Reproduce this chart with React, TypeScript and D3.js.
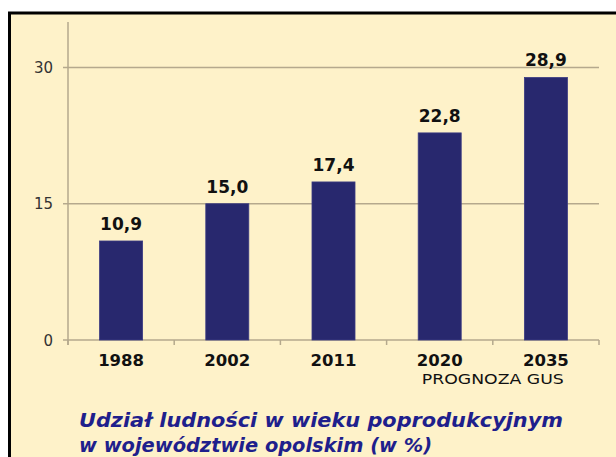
import React from 'react';
import { scaleBand, scaleLinear } from 'd3';

const years = ['1988', '2002', '2011', '2020', '2035'];
const shares = [10.9, 15.0, 17.4, 22.8, 28.9];
const yTicks = [0, 15, 30];
const forecastNote = 'PROGNOZA GUS';
const titleLines = ['Udział ludności w wieku poprodukcyjnym', 'w województwie opolskim (w %)'];

const W = 616;
const H = 457;
const plot = { left: 68, right: 599, top: 22, bottom: 340 };
// measured widths of the two title lines in the reference
const titleWidths = [484, 353];

export default function App() {
  const x = scaleBand()
    .domain(years)
    .range([plot.left, plot.right])
    .paddingInner(0.595)
    .paddingOuter(0.2975);

  const y = scaleLinear().domain([0, 30]).range([plot.bottom, 67.5]);

  const fmt = (v: number) => v.toFixed(1).replace('.', ',');
  const step = x.step();
  const edges = years.map((d) => (x(d) as number) - (step - x.bandwidth()) / 2);
  edges.push(plot.right);

  const axisColor = '#b5a98d';
  const font = '"DejaVu Sans", Verdana, sans-serif';

  return (
    <svg width={W} height={H} style={{ position: 'absolute', left: 0, top: 0, background: '#fff' }}>
      <rect x={9} y={12} width={W - 9} height={H - 12} fill="#fef2c9" />
      <line x1={8} x2={W} y1={13} y2={13} stroke="#000" strokeWidth={3} />
      <line x1={9.5} x2={9.5} y1={12} y2={H} stroke="#000" strokeWidth={3} />

      {/* gridlines + y ticks */}
      {yTicks.map((t) => (
        <g key={t}>
          <line x1={63} x2={plot.right} y1={y(t)} y2={y(t)} stroke={axisColor} strokeWidth={1.5} />
          <text x={53} y={y(t) + 5.5} textAnchor="end" fontFamily={font} fontSize={15} fill="#333">
            {t}
          </text>
        </g>
      ))}
      <line x1={plot.left} x2={plot.left} y1={plot.top} y2={plot.bottom + 5} stroke={axisColor} strokeWidth={1.5} />
      {edges.map((e, i) => (
        <line key={i} x1={e} x2={e} y1={plot.bottom} y2={plot.bottom + 5} stroke={axisColor} strokeWidth={1.5} />
      ))}

      {/* bars */}
      {years.map((d, i) => (
        <g key={d}>
          <rect
            x={x(d)}
            y={y(shares[i])}
            width={x.bandwidth()}
            height={plot.bottom - y(shares[i])}
            fill="#28286e"
            stroke="#3a3a82"
            strokeWidth={0.8}
          />
          <text
            x={(x(d) as number) + x.bandwidth() / 2}
            y={y(shares[i]) - 11}
            textAnchor="middle"
            fontFamily={font}
            fontWeight="bold"
            fontSize={17}
            fill="#111"
          >
            {fmt(shares[i])}
          </text>
          <text
            x={(x(d) as number) + x.bandwidth() / 2}
            y={366}
            textAnchor="middle"
            fontFamily={font}
            fontWeight="bold"
            fontSize={16.5}
            fill="#111"
          >
            {d}
          </text>
        </g>
      ))}
      <text
        x={((x('2020') as number) + (x('2035') as number) + x.bandwidth()) / 2}
        y={384}
        textAnchor="middle"
        fontFamily={font}
        fontSize={14}
        fill="#111"
        textLength={142}
        lengthAdjust="spacingAndGlyphs"
      >
        {forecastNote}
      </text>

      {titleLines.map((line, i) => (
        <text
          key={i}
          x={79}
          y={427 + i * 25}
          fontFamily={font}
          fontWeight="bold"
          fontStyle="italic"
          fontSize={20}
          fill="#1f1f8c"
          textLength={titleWidths[i]}
          lengthAdjust="spacingAndGlyphs"
        >
          {line}
        </text>
      ))}
    </svg>
  );
}
